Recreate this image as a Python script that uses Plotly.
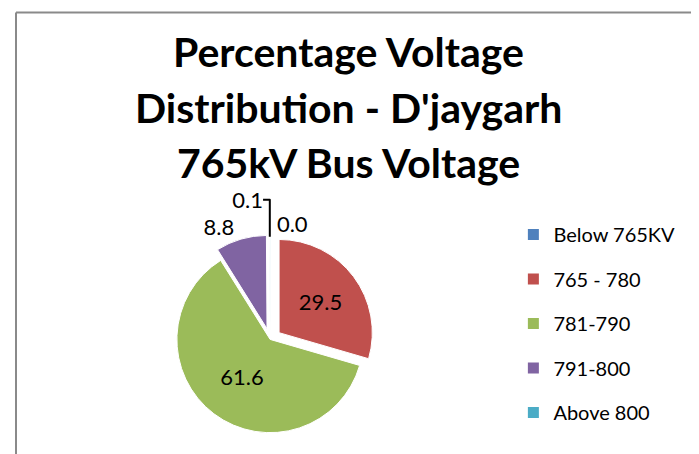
import plotly.graph_objects as go

categories = ["Below 765KV", "765 - 780", "781-790", "791-800", "Above 800"]
values = [0.0, 29.5, 61.6, 8.8, 0.1]
colors = ["#4F81BD", "#C0504D", "#9BBB59", "#8064A2", "#4BACC6"]
title_lines = ["Percentage Voltage", "Distribu\u200ction - D'jaygarh", "765kV Bus Voltage"]

W, H = 699, 454
font_family = "Lato, Carlito, 'Open Sans', sans-serif"

fig = go.Figure()
fig.add_trace(go.Pie(
    labels=categories,
    values=values,
    marker=dict(colors=colors, line=dict(color="white", width=1)),
    sort=False,
    direction="clockwise",
    rotation=0,
    pull=[0.1, 0.12, 0.0, 0.12, 0.1],
    texttemplate="%{value:.1f}",
    textposition=["outside", "inside", "inside", "outside", "outside"],
    textfont=dict(size=22, color="black", family=font_family),
    insidetextorientation="horizontal",
    showlegend=False,
    domain=dict(x=[0.13, 0.62], y=[0.04, 0.50]),
    hoverinfo="label+value",
))

# legend entries (one group per category so the spacing can be set)
for name, c in zip(categories, colors):
    fig.add_trace(go.Scatter(
        x=[None], y=[None], mode="markers", name=name, legendgroup=name,
        marker=dict(symbol="square", size=11, color=c),
    ))

for i, line in enumerate(title_lines):
    fig.add_annotation(
        text=f"<b>{line}</b>", x=0.487, y=1 - (44 + 55 * i) / H,
        xref="paper", yref="paper", showarrow=False,
        xanchor="center", yanchor="middle",
        font=dict(size=41, color="black", family=font_family),
    )

# chart frame (top and left edges)
fig.add_shape(type="line", xref="paper", yref="paper",
              x0=8 / W, x1=1, y0=1 - 4.5 / H, y1=1 - 4.5 / H,
              line=dict(color="#8A8A8A", width=2))
fig.add_shape(type="line", xref="paper", yref="paper",
              x0=8 / W, x1=8 / W, y0=0, y1=1 - 4.5 / H,
              line=dict(color="#8A8A8A", width=2))

fig.update_layout(
    width=W, height=H,
    margin=dict(l=0, r=0, t=0, b=0),
    paper_bgcolor="white", plot_bgcolor="white",
    xaxis=dict(visible=False, domain=[0.99, 1.0]),
    yaxis=dict(visible=False, domain=[0.99, 1.0]),
    legend=dict(
        x=0.723, y=1 - 207 / H, xanchor="left", yanchor="top",
        font=dict(size=20, color="black", family=font_family),
        tracegroupgap=15.5, itemwidth=30,
        bgcolor="rgba(0,0,0,0)",
    ),
    font=dict(family=font_family),
)

fig.write_html("out.html")
